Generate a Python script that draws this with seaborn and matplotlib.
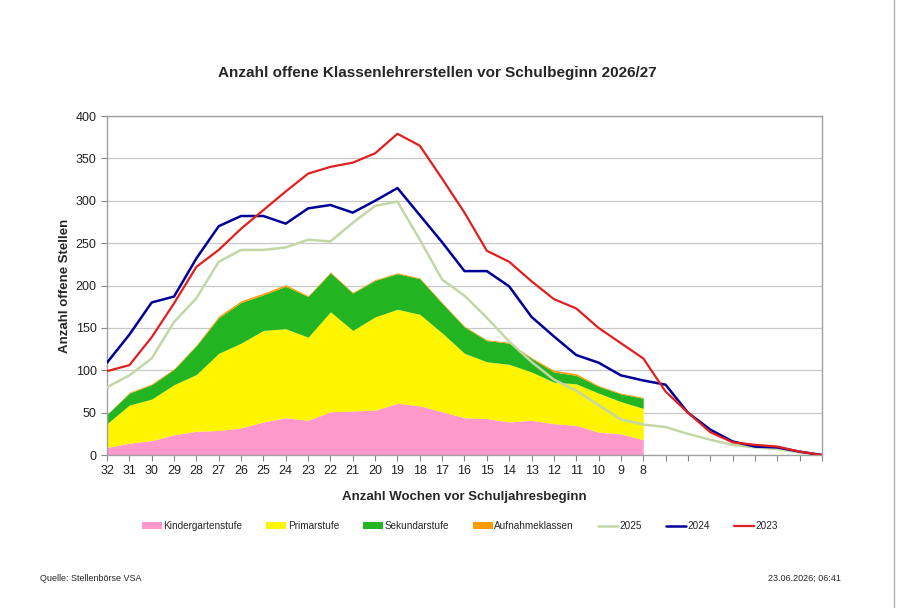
import numpy as np
import pandas as pd
import matplotlib
matplotlib.use("Agg")
import matplotlib.pyplot as plt
import seaborn as sns
from matplotlib.patches import Patch
from matplotlib.lines import Line2D

# Wochen vor Schuljahresbeginn (32 ... 0), Beschriftung nur bis 8
weeks = list(range(32, -1, -1))
week_labels = [str(w) if w >= 8 else "" for w in weeks]

# gestapelte Flaechen 2026/27 (Wochen 32 ... 8)
kinder = [9, 14, 17, 24, 28, 29, 32, 39, 44, 41, 51, 52, 53, 61, 58, 51, 44, 43, 39, 41, 37, 35, 27, 25, 18]
primar = [28, 45, 49, 59, 67, 91, 100, 108, 105, 98, 118, 95, 110, 111, 108, 93, 76, 67, 68, 57, 49, 49, 46, 38, 37]
sekundar = [11, 14, 17, 18, 34, 42, 48, 42, 50, 48, 46, 44, 43, 42, 42, 35, 31, 25, 25, 16, 12, 10, 8, 9, 12]
aufnahme = [0, 1, 1, 1, 1, 2, 2, 2, 2, 1, 1, 1, 1, 1, 1, 1, 1, 1, 1, 1, 2, 2, 1, 1, 1]

# Vorjahre (Wochen 32 ... 0)
y2025 = [80, 94, 114, 157, 185, 228, 242, 242, 245, 254, 252, 274, 294, 299, 254, 207, 188, 162, 134, 110,
         89, 76, 59, 42, 36, 33, 25, 18, 12, 9, 7, 3, 0]
y2024 = [109, 142, 180, 187, 232, 270, 282, 282, 273, 291, 295, 286, 300, 315, 283, 251, 217, 217, 199, 163,
         140, 118, 109, 94, 88, 83, 50, 30, 16, 10, 9, 4, 0]
y2023 = [99, 106, 139, 179, 222, 242, 267, 289, 311, 332, 340, 345, 356, 379, 365, 326, 286, 241, 228, 205,
         184, 173, 150, 132, 114, 75, 50, 27, 15, 12, 10, 4, 0]

area_names = ["Kindergartenstufe", "Primarstufe", "Sekundarstufe", "Aufnahmeklassen"]
area_colors = ["#FF99CC", "#FFF500", "#22B521", "#FF9900"]
year_names = ["2025", "2024", "2023"]
year_colors = {"2025": "#C5D6A6", "2024": "#000099", "2023": "#E21F1F"}
year_widths = {"2025": 1.8, "2024": 1.8, "2023": 1.6}

sns.set_style("white")
plt.rcParams["font.family"] = ["Liberation Sans", "DejaVu Sans"]

fig = plt.figure(figsize=(9, 6.08), dpi=100)
ax = fig.add_axes([0.1189, 0.2516, 0.7944, 0.5576])

pos = np.arange(len(weeks))
n_cur = len(kinder)
ax.stackplot(pos[:n_cur], kinder, primar, sekundar, aufnahme, colors=area_colors,
             linewidth=0, zorder=2)

lines = pd.DataFrame({
    "pos": np.tile(pos, 3),
    "Jahr": np.repeat(year_names, len(weeks)),
    "Wert": y2025 + y2024 + y2023,
})
for name in year_names:
    sns.lineplot(data=lines[lines["Jahr"] == name], x="pos", y="Wert", color=year_colors[name],
                 linewidth=year_widths[name], sort=False, ax=ax, zorder=3, legend=False)

ax.set_xlim(0, len(weeks) - 1)
ax.set_ylim(0, 400)
ax.set_yticks(range(0, 401, 50))
ax.set_xticks(pos)
ax.set_xticklabels(week_labels, fontsize=9, color="#222222")
ax.tick_params(axis="y", labelsize=9, labelcolor="#222222", length=4, color="#888888", direction="out", left=True)
ax.tick_params(axis="x", length=4, color="#888888", direction="out", bottom=True, pad=3)
ax.yaxis.grid(True, color="#C8C8C8", linewidth=0.9, zorder=0)
ax.set_axisbelow(True)
for side in ["left", "bottom", "top", "right"]:
    ax.spines[side].set_visible(True)
    ax.spines[side].set_color("#A0A0A0")
    ax.spines[side].set_linewidth(1.0)

ax.set_xlabel("Anzahl Wochen vor Schuljahresbeginn", fontsize=9.5, fontweight="bold", labelpad=10)
ax.set_ylabel("Anzahl offene Stellen", fontsize=9.5, fontweight="bold", labelpad=3)
fig.text(0.486, 0.88, "Anzahl offene Klassenlehrerstellen vor Schulbeginn 2026/27",
         ha="center", va="center", fontsize=11, fontweight="bold")

handles = [Patch(facecolor=c, edgecolor="none") for c in area_colors]
handles += [Line2D([0], [0], color=year_colors[n], linewidth=year_widths[n]) for n in year_names]
fig.legend(handles, area_names + year_names, loc="center", bbox_to_anchor=(0.511, 0.135), ncol=7,
           frameon=False, fontsize=7.2, handlelength=2.0, handleheight=0.6, handletextpad=0.15,
           columnspacing=2.4)

fig.text(0.045, 0.049, "Quelle: Stellenbörse VSA", fontsize=6.5, ha="left", va="center")
fig.text(0.934, 0.049, "23.06.2026; 06:41", fontsize=6.5, ha="right", va="center")
fig.add_artist(Line2D([0.993, 0.993], [0, 1], transform=fig.transFigure, color="#B0B0B0", linewidth=1))

fig.savefig("out.png", dpi=100)
